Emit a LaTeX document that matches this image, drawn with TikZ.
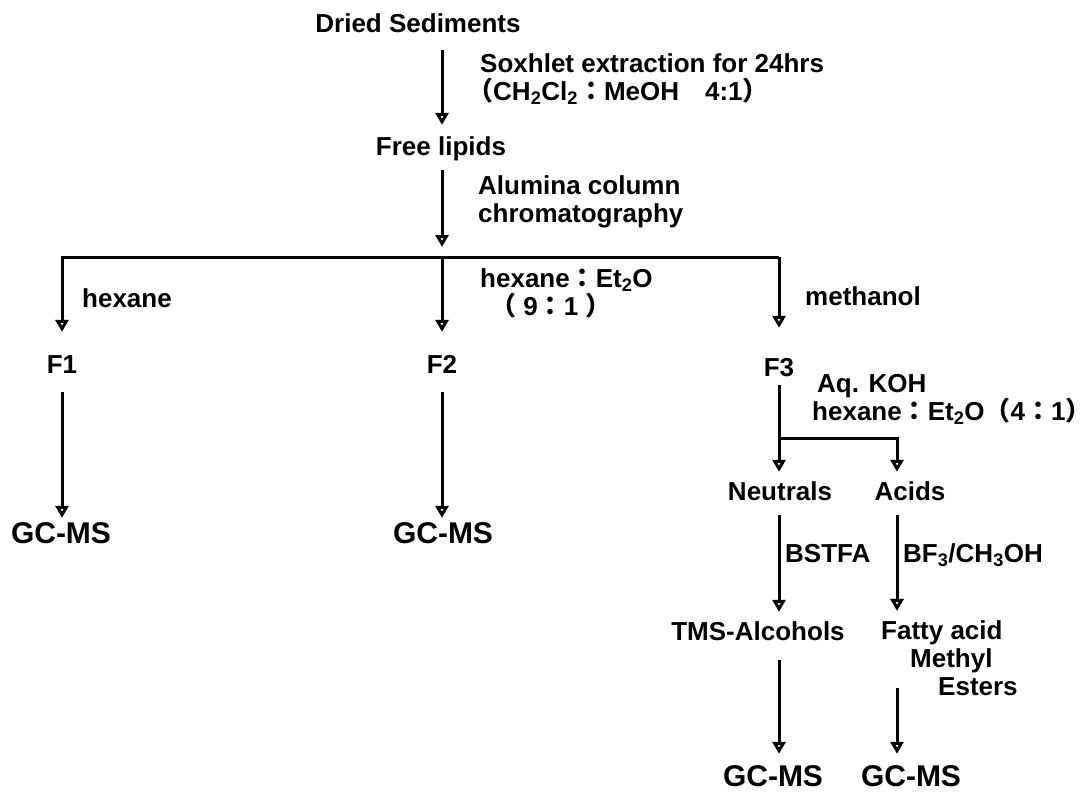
\documentclass[tikz,border=0pt]{standalone}
\usepackage{fontspec}
\setmainfont{Liberation Sans}
\newfontfamily\cjk{Noto Sans CJK JP}
\usetikzlibrary{arrows.meta}
\newcommand{\lblfont}{\fontsize{26}{28}\selectfont\bfseries}
\newcommand{\gcfont}{\fontsize{30}{34}\selectfont\bfseries}
\newcommand{\fw}[1]{{\cjk #1}}

\begin{document}
\begin{tikzpicture}[
  x=1pt,y=-1pt,
  txt/.style={font=\lblfont, inner sep=0pt, anchor=base west, align=left},
  row/.style={font=\lblfont, inner sep=0pt, anchor=base, text height=19pt, text depth=6pt},
  gc/.style={font=\gcfont, inner sep=0pt, anchor=base, text height=22pt, text depth=0pt},
  arr/.style={line width=3pt, -{Triangle[open,length=12pt,width=13pt]}}
]
\useasboundingbox (0,0) rectangle (1091,792);

% multi-line texts sit on the baseline of their last line
\node[row] (dried) at (418,33) {Dried Sediments};
\node[txt] (soxh) at (480,100) {Soxhlet extraction for 24hrs\\\hspace*{-13pt}\fw{（}CH\textsubscript{2}Cl\textsubscript{2}\fw{：}MeOH\fw{　}4:1\fw{）}};
\node[row] (lipids) at (441,155) {Free lipids};
\node[txt] (alum) at (478,222) {Alumina column\\chromatography};

\node[row] (f1) at (62,373) {F1};
\node[row] (f2) at (442,373) {F2};
\node[row] (f3) at (779,376) {F3};
\node[txt] (hex) at (82,307) {hexane};
\node[txt] (hexet) at (480,315) {hexane\fw{：}Et\textsubscript{2}O\\\hspace*{10pt}\fw{（} 9\fw{：}1 \fw{）}};
\node[txt] (meoh) at (805,305) {methanol};
\node[txt] (koh) at (812,420) {\hspace*{5pt}Aq. KOH\\hexane\fw{：}Et\textsubscript{2}O\fw{（}4\fw{：}1\fw{\makebox[9pt][l]{）}}};

\node[gc] (gc1) at (61,543) {GC-MS};
\node[gc] (gc2) at (443,543) {GC-MS};

\node[row] (neut) at (780,500) {Neutrals};
\node[row] (acids) at (910,500) {Acids};
\node[txt] (bstfa) at (785,562) {BSTFA};
\node[txt] (bf3) at (903,562) {BF\textsubscript{3}/CH\textsubscript{3}OH};
\node[row] (tms) at (758,640) {TMS-Alcohols};
\node[txt] (fatty) at (881,695) {Fatty acid\\\hspace*{29pt}Methyl\\\hspace*{57pt}Esters};
\node[gc] (gc3) at (773,786) {GC-MS};
\node[gc] (gc4) at (911,786) {GC-MS};

\coordinate (split) at (442,257);
\coordinate (fork) at (897,438);

\draw[arr, shorten <=11pt, shorten >=11pt] (dried.south -| f2) -- (lipids.north -| f2);
\draw[arr, shorten <=9pt, shorten >=10pt] (lipids.south -| f2) -- (split);
\draw[arr, shorten >=22pt] (split -| f3) -- (split -| f1) -- (f1.north);
\draw[arr, shorten >=22pt] (split) -- (f2.north);
\draw[arr, shorten >=29pt] (split -| f3) -- (f3.north);
\draw[arr, shorten <=13pt, shorten >=3pt] (f1.south) -- (gc1.north -| f1);
\draw[arr, shorten <=13pt, shorten >=3pt] (f2.south) -- (gc2.north -| f2);
\draw[arr, shorten <=3pt, shorten >=9pt] (f3.south) -- (neut.north -| f3);
\draw[arr, shorten >=9pt] (f3 |- fork) -- (fork) -- (acids.north -| fork);
\draw[arr, shorten <=9pt, shorten >=9pt] (neut.south -| f3) -- (tms.north -| f3);
\draw[arr, shorten <=9pt, shorten >=9pt] (acids.south -| fork) -- (fatty.north -| fork);
\draw[arr, shorten <=14pt, shorten >=10pt] (tms.south -| f3) -- (gc3.north -| f3);
\draw[arr, shorten <=-7pt, shorten >=10pt] (fatty.south -| fork) -- (gc4.north -| fork);
\end{tikzpicture}
\end{document}
